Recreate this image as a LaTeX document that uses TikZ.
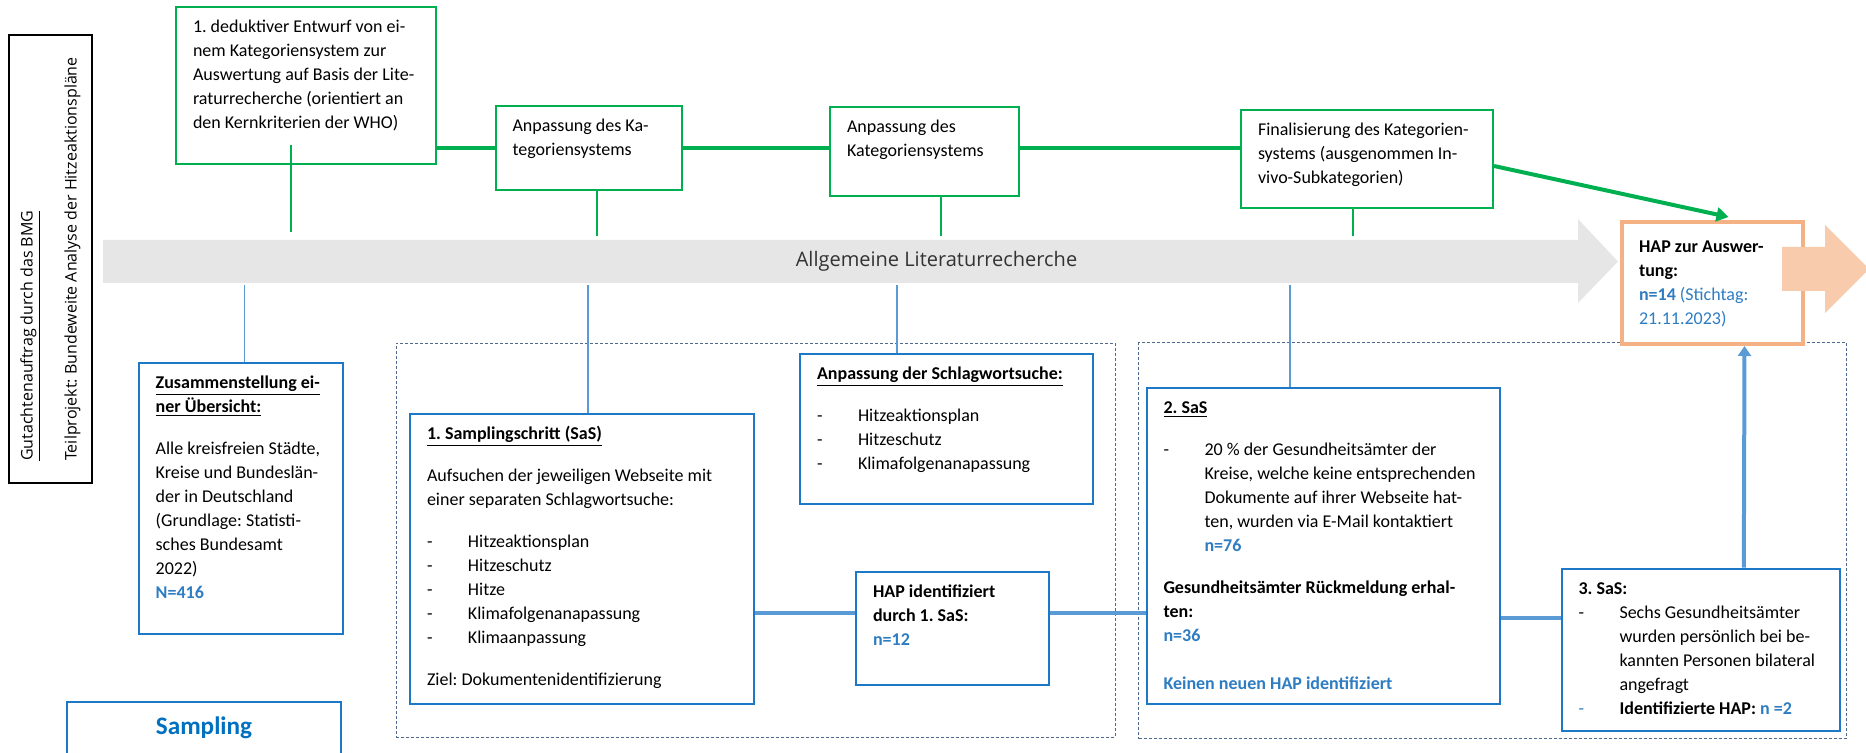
\documentclass[tikz,border=0pt]{standalone}
\usepackage{fontspec}
\setmainfont{Carlito}
\newfontfamily\arrowfont{Open Sans}
\usepackage{tikz}
\usepackage{xcolor}
\usetikzlibrary{arrows.meta, calc}
\frenchspacing

\definecolor{grn}{HTML}{00B050}
\definecolor{boxblue}{RGB}{30,120,200}
\definecolor{lineblue}{HTML}{5B9BD5}
\definecolor{nblue}{RGB}{46,125,195}
\definecolor{sampblue}{HTML}{0070C0}
\definecolor{grpgrey}{RGB}{80,105,140}
\definecolor{litgrey}{HTML}{E7E6E6}
\definecolor{orgline}{HTML}{F4B183}
\definecolor{orgfill}{HTML}{F8CBAD}

\tikzstyle{grnbox} = [rectangle, anchor=north west,
draw=grn, line width=1pt, fill=white,
inner xsep=8.5pt, inner ysep=4.4pt,
font=\fontsize{9}{12}\selectfont]
\tikzstyle{bluebox} = [rectangle, anchor=north west,
draw=boxblue, line width=1pt, fill=white,
inner xsep=8.5pt, inner ysep=4.4pt,
font=\fontsize{9}{12}\selectfont]
\tikzstyle{orgbox} = [rectangle, anchor=north west,
draw=orgline, line width=2pt, fill=white,
inner xsep=8.5pt, inner ysep=6.8pt,
font=\fontsize{9}{12}\selectfont]
\tikzstyle{grpbox} = [rectangle, anchor=north west,
draw=grpgrey, line width=0.5pt,
dash pattern=on 1.5pt off 1pt,
inner sep=0pt]
\tikzstyle{grnline} = [draw=grn, line width=2pt]
\tikzstyle{grndrop} = [draw=grn, line width=0.8pt]
\tikzstyle{bluedrop} = [draw=lineblue, line width=0.7pt]
\tikzstyle{blueline} = [draw=lineblue, line width=2pt]
\tikzstyle{grnarrow} = [grnline, -{Triangle[length=6pt, width=7pt]}]
\tikzstyle{bluearrow} = [blueline, -{Triangle[length=5pt, width=6.5pt]}]

\newlength{\bulw}
\setlength{\bulw}{20.5pt}
\newcommand{\bul}{\makebox[\bulw][l]{-}}
\newcommand{\einzug}{\hspace*{\bulw}}
\newcommand{\nval}[1]{\textcolor{nblue}{\textbf{#1}}}
\newcommand{\boxtxt}[3]{\parbox[t][#2][t]{\dimexpr#1+6pt\relax}{\raggedright\strut #3}\hspace*{-6pt}}

\begin{document}
\begin{tikzpicture}[x=0.5pt, y=-0.5pt]
        \useasboundingbox (0,0) rectangle (1866,753);
        \clip (0,0) rectangle (1866,753);

        % --- Zeitachse ---
        \fill [litgrey] (103,240) -- (1578,240) -- (1578,219) -- (1618,261.5)
            -- (1578,303) -- (1578,283) -- (103,283) -- cycle;
        \coordinate (lit_n) at (103,240);
        \coordinate (lit_s) at (103,283);
        \node (lit_txt) [font=\arrowfont\fontsize{10}{12}\selectfont, text=black!80] at (936.5,261.5) {Allgemeine Literaturrecherche};

        % --- Auftrag ---
        \node (auftrag) [rotate=90, draw=black, line width=0.8pt, minimum width=224pt, minimum height=41.5pt,
            inner sep=0pt, align=left, font=\arrowfont\fontsize{8}{11}\selectfont] at (50.5,259)
            {\underline{Gutachtenauftrag durch das BMG}\\[11pt] Teilprojekt: Bundeweite Analyse der Hitzeaktionspläne};

        % --- Kategoriensystem (oben) ---
        \node (entwurf) [grnbox] at (175,6) {\boxtxt{113pt}{69.7pt}{1. deduktiver Entwurf von ei-\\ nem Kategoriensystem zur\\ Auswertung auf Basis der Lite-\\ raturrecherche (orientiert an\\ den Kernkriterien der WHO)}};
        \node (anp_kat1) [grnbox] at (494.5,105) {\boxtxt{76.25pt}{33.2pt}{Anpassung des Ka-\\ tegoriensystems}};
        \node (anp_kat2) [grnbox] at (829,106) {\boxtxt{77.5pt}{35.7pt}{Anpassung des\\ Kategoriensystems}};
        \node (final) [grnbox] at (1240,109) {\boxtxt{109pt}{40.2pt}{Finalisierung des Kategorien-\\ systems (ausgenommen In-\\ vivo-Subkategorien)}};

        % --- Gruppen der Samplingschritte ---
        \node (grp_sas1) [grpbox, minimum width=359.5pt, minimum height=197pt] at (395.7,342.7) {};
        \node (grp_sas2) [grpbox, minimum width=353.8pt, minimum height=197.9pt] at (1138.4,342.3) {};

        % --- Sampling (unten) ---
        \node (zusammen) [bluebox] at (137.7,362) {\boxtxt{85pt}{126.5pt}{\textbf{\underline{Zusammenstellung ei-}}\\ \textbf{\underline{ner Übersicht:}}\\[9pt] Alle kreisfreien Städte,\\ Kreise und Bundeslän-\\ der in Deutschland\\ (Grundlage: Statisti-\\ sches Bundesamt\\ 2022)\\ \nval{N=416}}};
        \node (sas1) [bluebox] at (409,413.3) {\boxtxt{154.8pt}{135.9pt}{\textbf{\underline{1. Samplingschritt (SaS)}}\\[9pt] Aufsuchen der jeweiligen Webseite mit\\ einer separaten Schlagwortsuche:\\[9pt] \bul Hitzeaktionsplan\\ \bul Hitzeschutz\\ \bul Hitze\\ \bul Klimafolgenanapassung\\ \bul Klimaanpassung\\[9pt] Ziel: Dokumentenidentifizierung}};
        \node (anp_such) [bluebox] at (799,352.7) {\boxtxt{129.5pt}{66.2pt}{\textbf{\underline{Anpassung der Schlagwortsuche:}}\\[9pt] \bul Hitzeaktionsplan\\ \bul Hitzeschutz\\ \bul Klimafolgenanapassung}};
        \node (hap_ident) [bluebox] at (855,571) {\boxtxt{79.5pt}{47.7pt}{\textbf{HAP identifiziert}\\ \textbf{durch 1. SaS:}\\ \nval{n=12}}};
        \node (sas2) [bluebox] at (1145.5,386.7) {\boxtxt{159.5pt}{149.2pt}{\textbf{\underline{2. SaS}}\\[9pt] \bul 20~\% der Gesundheitsämter der\\ \einzug Kreise, welche keine entsprechenden\\ \einzug Dokumente auf ihrer Webseite hat-\\ \einzug ten, wurden via E-Mail kontaktiert\\ \einzug\nval{n=76}\\[9pt] \textbf{Gesundheitsämter Rückmeldung erhal-}\\ \textbf{ten:}\\ \nval{n=36}\\[12pt] \nval{Keinen neuen HAP identifiziert}}};
        \node (sas3) [bluebox] at (1560.5,567.7) {\boxtxt{122.3pt}{72.4pt}{\textbf{3. SaS:}\\ \bul Sechs Gesundheitsämter\\ \einzug wurden persönlich bei be-\\ \einzug kannten Personen bilateral\\ \einzug angefragt\\ \makebox[\bulw][l]{\textcolor{nblue}{-}}\textbf{Identifizierte HAP:} \nval{n =2}}};
        \node (sampling) [bluebox, inner ysep=5.7pt, font=\fontsize{12.6}{15}\selectfont\bfseries] at (66,701) {\parbox[t][40pt][t]{120pt}{\centering\strut\textcolor{sampblue}{Sampling}}};

        % --- Ergebnis ---
        \node (hap_ausw) [orgbox] at (1620,220) {\boxtxt{73.5pt}{47.4pt}{\textbf{HAP zur Auswer-}\\ \textbf{tung:}\\ \textcolor{nblue}{\textbf{n=14} (Stichtag:}\\ \textcolor{nblue}{21.11.2023)}}};
        \fill [orgfill] (1782,247) -- (1825,247) -- (1825,225) -- (1869,269)
            -- (1825,313) -- (1825,291) -- (1782,291) -- cycle;

        % --- Verbindungen Kategoriensystem ---
        \draw [grnline] (entwurf.east |- anp_kat1.west) -- (anp_kat1.west);
        \draw [grnline] (anp_kat1.east) -- (anp_kat1.east -| anp_kat2.west);
        \draw [grnline] (anp_kat2.east |- anp_kat1.east) -- (final.west |- anp_kat1.east);
        \draw [grnarrow] ($(final.east)+(0,-3.5pt)$) -- ($(hap_ausw.north)+(8pt,1.5pt)$);

        \draw [grndrop] ($(entwurf.south)+(-7.5pt,10pt)$) -- ($(entwurf.south |- lit_n)+(-7.5pt,4pt)$);
        \draw [grndrop] ($(anp_kat1.south)+(4pt,0)$) -- ($(anp_kat1.south |- lit_n)+(4pt,2pt)$);
        \draw [grndrop] ($(anp_kat2.south)+(8.25pt,0)$) -- ($(anp_kat2.south |- lit_n)+(8.25pt,2pt)$);
        \draw [grndrop] ($(final.south)+(-7pt,0)$) -- ($(final.south |- lit_n)+(-7pt,2pt)$);

        % --- Verbindungen Sampling ---
        \draw [bluedrop] ($(lit_s -| zusammen.north)+(2pt,-1pt)$) -- ($(zusammen.north)+(2pt,0)$);
        \draw [bluedrop] ($(lit_s -| sas1.north)+(3.1pt,-1pt)$) -- ($(sas1.north)+(3.1pt,0)$);
        \draw [bluedrop] ($(lit_s -| anp_such.north)+(-24.75pt,-1pt)$) -- ($(anp_such.north)+(-24.75pt,0)$);
        \draw [bluedrop] ($(lit_s -| sas2.north)+(-16.5pt,-1pt)$) -- ($(sas2.north)+(-16.5pt,0)$);

        \draw [blueline] ($(sas1.east |- hap_ident.west)+(0,8pt)$) -- ($(hap_ident.west)+(0,8pt)$);
        \draw [blueline] ($(hap_ident.east)+(0,8pt)$) -- ($(sas2.west |- hap_ident.east)+(0,8pt)$);
        \draw [blueline] ($(sas2.east |- sas3.west)+(0,16pt)$) -- ($(sas3.west)+(0,16pt)$);
        \draw [bluearrow] ($(sas3.north)+(21.5pt,0)$) -- ($(hap_ausw.south)+(16pt,0)$);

\end{tikzpicture}
\end{document}
